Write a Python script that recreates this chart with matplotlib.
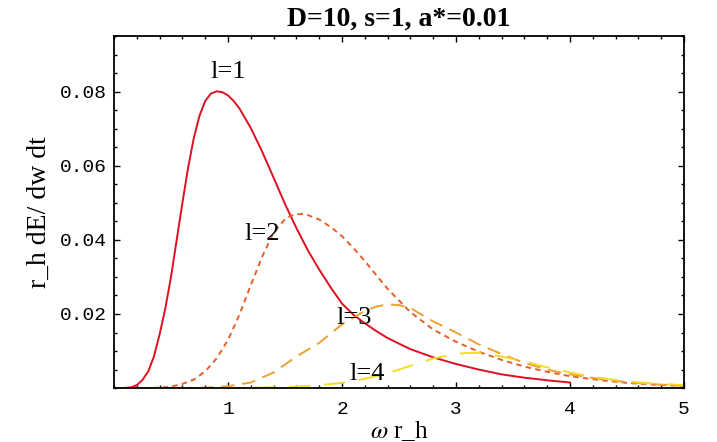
import matplotlib
matplotlib.use("Agg")
import matplotlib.pyplot as plt
from matplotlib.ticker import MultipleLocator, FixedLocator

# l=1 (solid red)
x1 = [0, 0.1, 0.15, 0.2, 0.25, 0.3, 0.35, 0.4, 0.45, 0.5, 0.55, 0.6, 0.65, 0.7,
      0.75, 0.8, 0.85, 0.9, 0.95, 1.0, 1.05, 1.1, 1.2, 1.3, 1.4, 1.5, 1.6, 1.7,
      1.8, 1.9, 2.0, 2.1, 2.2, 2.3, 2.4, 2.6, 2.8, 3.0, 3.2, 3.4, 3.6, 3.8, 4.0]
y1 = [0, 0.00005, 0.0002, 0.0008, 0.0022, 0.0045, 0.0085, 0.0145, 0.0215,
      0.0300, 0.0400, 0.0500, 0.0595, 0.0675, 0.0735, 0.0775, 0.0795, 0.0801,
      0.0799, 0.0790, 0.0775, 0.0755, 0.0702, 0.0638, 0.0568, 0.0497, 0.0432,
      0.0372, 0.0320, 0.0272, 0.0228, 0.0198, 0.0175, 0.0154, 0.0135, 0.0105,
      0.0083, 0.0065, 0.0050, 0.0037, 0.0028, 0.0021, 0.0015]

# l=2
x2 = [0, 0.2, 0.4, 0.5, 0.6, 0.7, 0.8, 0.9, 1.0, 1.1, 1.2, 1.3, 1.4, 1.5, 1.55,
      1.6, 1.65, 1.7, 1.8, 1.9, 2.0, 2.1, 2.2, 2.3, 2.4, 2.6, 2.8, 3.0, 3.2,
      3.4, 3.6, 3.8, 4.0, 4.25, 4.5, 4.75, 5.0]
y2 = [0, 0, 0.0001, 0.0004, 0.0011, 0.0023, 0.0045, 0.0080, 0.0130, 0.0198,
      0.0278, 0.0355, 0.0420, 0.0456, 0.0465, 0.0469, 0.0470, 0.0467, 0.0455,
      0.0435, 0.0410, 0.0378, 0.0343, 0.0305, 0.0268, 0.0205, 0.0158, 0.0125,
      0.0098, 0.0076, 0.0058, 0.0044, 0.0032, 0.0022, 0.0014, 0.0009, 0.0006]

# l=3
x3 = [0, 0.5, 0.8, 1.0, 1.2, 1.4, 1.6, 1.8, 2.0, 2.1, 2.2, 2.3, 2.4, 2.5, 2.6,
      2.8, 3.0, 3.2, 3.4, 3.6, 3.8, 4.0, 4.25, 4.5, 4.75, 5.0]
y3 = [0, 0, 0.0001, 0.0005, 0.0015, 0.0042, 0.0085, 0.0122, 0.0172, 0.0190,
      0.0208, 0.0220, 0.0226, 0.0224, 0.0216, 0.0180, 0.0150, 0.0118, 0.0092,
      0.0068, 0.0050, 0.0037, 0.0025, 0.0016, 0.0010, 0.0006]

# l=4
x4 = [0, 1.0, 1.4, 1.6, 1.8, 2.0, 2.2, 2.4, 2.6, 2.8, 3.0, 3.1, 3.2, 3.3, 3.4,
      3.6, 3.8, 4.0, 4.25, 4.5, 4.75, 5.0]
y4 = [0, 0, 0.0002, 0.0004, 0.0008, 0.0014, 0.0025, 0.0040, 0.0060, 0.0080,
      0.0092, 0.0095, 0.0095, 0.0091, 0.0085, 0.0072, 0.0056, 0.0042, 0.0028,
      0.0018, 0.0012, 0.0008]

labels = ["l=1", "l=2", "l=3", "l=4"]
label_pos = [(1.0, 0.0852), (1.3, 0.0415), (2.11, 0.0190), (2.22, 0.0038)]

serif = "Liberation Serif"
mono = "Liberation Mono"
plt.rcParams["mathtext.fontset"] = "stix"

fig = plt.figure(figsize=(7.17, 4.42), dpi=100)
ax = fig.add_axes([0.159, 0.122, 0.795, 0.797])

ax.plot(x1, y1, color="#dd1020", lw=1.4)
ax.plot(x2, y2, color="#e4602a", lw=1.4, dashes=(2.8, 2.2))
ax.plot(x3, y3, color="#eea030", lw=1.4, dashes=(7, 4))
ax.plot(x4, y4, color="#f2dc28", lw=1.4, dashes=(11, 7))

for txt, (tx, ty) in zip(labels, label_pos):
    ax.text(tx, ty, txt, family=serif, fontsize=19, ha="center", va="center")

ax.set_xlim(0, 5)
ax.set_ylim(0, 0.0951)
ax.xaxis.set_major_locator(FixedLocator([1, 2, 3, 4, 5]))
ax.xaxis.set_minor_locator(MultipleLocator(0.2))
ax.yaxis.set_major_locator(FixedLocator([0.02, 0.04, 0.06, 0.08]))
ax.yaxis.set_minor_locator(MultipleLocator(0.005))
ax.set_yticklabels(["0.02", "0.04", "0.06", "0.08"])
ax.tick_params(which="both", direction="in", top=True, right=True, width=1.0)
ax.tick_params(which="major", length=4.5)
ax.tick_params(which="minor", length=2.2)
ax.tick_params(axis="both", labelsize=14)
ax.tick_params(axis="x", pad=9)
ax.tick_params(axis="y", pad=5)
for lab in ax.get_xticklabels() + ax.get_yticklabels():
    lab.set_family(mono)
for sp in ax.spines.values():
    sp.set_linewidth(1.3)

ax.set_xlabel(r"$\omega$ r_h", family=serif, fontsize=18, labelpad=1)
ax.set_ylabel("r_h dE/ dw dt", family=serif, fontsize=20, labelpad=6)
ax.set_title("D=10, s=1, a*=0.01", family=serif, fontsize=20, fontweight="bold", pad=7)

fig.savefig("out.png", dpi=100)
